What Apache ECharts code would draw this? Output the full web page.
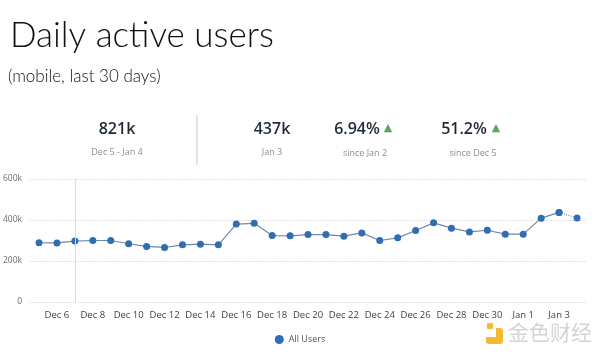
<!DOCTYPE html>
<html><head><meta charset="utf-8">
<script src="https://cdn.jsdelivr.net/npm/echarts@6/dist/echarts.min.js"></script>
<style>html,body{margin:0;padding:0;background:#fff}#c{width:600px;height:355px}</style>
</head><body><div id="c"></div>
<script>
const categories = ['Dec 5','Dec 6','Dec 7','Dec 8','Dec 9','Dec 10','Dec 11','Dec 12','Dec 13','Dec 14','Dec 15','Dec 16','Dec 17','Dec 18','Dec 19','Dec 20','Dec 21','Dec 22','Dec 23','Dec 24','Dec 25','Dec 26','Dec 27','Dec 28','Dec 29','Dec 30','Dec 31','Jan 1','Jan 2','Jan 3','Jan 4'];
const allUsers = [289000,288000,297000,300000,300000,284000,271000,266000,279000,282000,279000,380000,384000,324000,323000,329000,329000,321000,337000,300000,313000,349000,386000,360000,342000,350000,331000,331000,409000,437000,410000];
const yTicks = [0,200000,400000,600000];
const kpiValues = ['821k','437k','6.94%','51.2%'];
const kpiLabels = ['Dec 5 - Jan 4','Jan 3','since Jan 2','since Dec 5'];

const n = allUsers.length;
const solidData = allUsers.map((v,i)=> i < n-1 ? v : null);
const dottedData = allUsers.map((v,i)=> i >= n-2 ? v : null);

const chart = echarts.init(document.getElementById('c'));
const dark = '#1e2a38', gray = '#8a8f96', green = '#5aa85a';
chart.setOption({
  animation:false,
  graphic:[
    {type:'text',left:10,top:18,style:{text:'Daily active users',font:'300 35px "Lato"',fill:'#111'}},
    {type:'text',left:8,top:68,style:{text:'(mobile, last 30 days)',font:'300 17px "Lato"',fill:'#111'}},
    {type:'text',x:117,y:129,style:{text:kpiValues[0],font:'600 16px "Open Sans"',fill:dark,align:'center',verticalAlign:'middle'}},
    {type:'text',x:117,y:152,style:{text:kpiLabels[0],font:'normal 9px "Open Sans"',fill:gray,align:'center',verticalAlign:'middle'}},
    {type:'rect',shape:{x:196,y:115,width:2,height:50},style:{fill:'#e4e4e4'}},
    {type:'text',x:272,y:129,style:{text:kpiValues[1],font:'600 16px "Open Sans"',fill:dark,align:'center',verticalAlign:'middle'}},
    {type:'text',x:272,y:152,style:{text:kpiLabels[1],font:'normal 9px "Open Sans"',fill:gray,align:'center',verticalAlign:'middle'}},
    {type:'text',x:357,y:129,style:{text:kpiValues[2],font:'600 16px "Open Sans"',fill:dark,align:'center',verticalAlign:'middle'}},
    {type:'text',x:388,y:128,style:{text:'▲',font:'normal 11px "DejaVu Sans"',fill:green,align:'center',verticalAlign:'middle'}},
    {type:'text',x:365,y:153,style:{text:kpiLabels[2],font:'normal 9px "Open Sans"',fill:gray,align:'center',verticalAlign:'middle'}},
    {type:'text',x:464,y:129,style:{text:kpiValues[3],font:'600 16px "Open Sans"',fill:dark,align:'center',verticalAlign:'middle'}},
    {type:'text',x:496,y:128,style:{text:'▲',font:'normal 11px "DejaVu Sans"',fill:green,align:'center',verticalAlign:'middle'}},
    {type:'text',x:473,y:153,style:{text:kpiLabels[3],font:'normal 9px "Open Sans"',fill:gray,align:'center',verticalAlign:'middle'}},
    {type:'rect',shape:{x:486,y:328,width:17,height:16,r:3},style:{fill:'#f5b82e'}},
    {type:'rect',shape:{x:486,y:328,width:10,height:9},style:{fill:'#fff'}},
    {type:'rect',shape:{x:487,y:323,width:6,height:6,r:1},style:{fill:'#f5b82e'}},
    {type:'text',left:508,top:322,style:{text:'金色财经',font:'normal 21px "Noto Sans CJK SC"',fill:'#d4d4d4'}}
  ],
  grid:{left:29,width:557,top:179,height:123},
  legend:{data:['All Users'],bottom:6,left:'center',icon:'circle',itemWidth:9,itemHeight:9,
    textStyle:{color:'#555',fontSize:9,fontFamily:'Open Sans'}},
  xAxis:{type:'category',data:categories,boundaryGap:true,
    axisLine:{show:false},axisTick:{show:false},
    axisLabel:{interval:(i)=>i%2===1,color:'#3a3f46',fontSize:9.5,fontFamily:'Open Sans',margin:8}},
  yAxis:{type:'value',min:0,max:600000,interval:200000,
    axisLine:{show:false},axisTick:{show:false},
    axisLabel:{color:'#6a6f76',fontSize:8.5,fontFamily:'Open Sans',margin:8,
      formatter:(v)=> yTicks.includes(v) ? (v===0?'0':(v/1000)+'k') : ''},
    splitLine:{lineStyle:{color:'#d8d8d8',type:'dotted',width:1.2}}},
  series:[
    {name:'All Users',type:'line',data:solidData,color:'#2f6db5',
      symbol:'circle',symbolSize:7,itemStyle:{color:'#2f6db5'},
      lineStyle:{color:'#6d8aa8',width:1.2},
      markLine:{silent:true,symbol:'none',label:{show:false},
        lineStyle:{color:'#d3e0e3',type:'solid',width:1},data:[{xAxis:'Dec 7'}]}},
    {name:'proj',type:'line',data:dottedData,symbol:'circle',symbolSize:7,
      itemStyle:{color:'#2f6db5'},lineStyle:{color:'#8aa2bc',width:1.2,type:'dotted'}}
  ]
});
</script></body></html>
